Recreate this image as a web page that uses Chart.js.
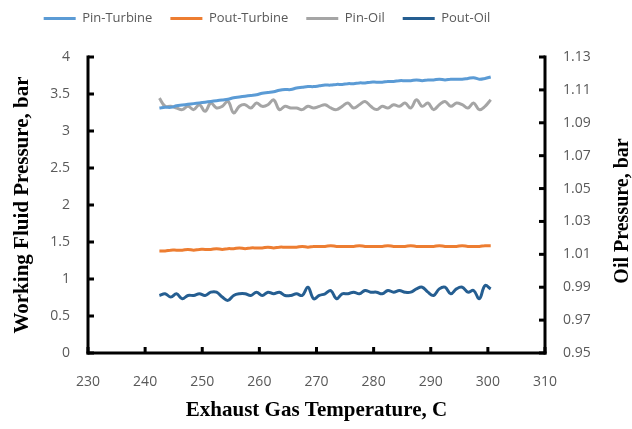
<!DOCTYPE html>
<html>
<head>
<meta charset="utf-8">
<script src="https://cdn.jsdelivr.net/npm/chart.js@4.4.1/dist/chart.umd.min.js"></script>
<style>
  html, body { margin: 0; padding: 0; background: #fff; }
  #chart { display: block; }
</style>
</head>
<body>
<canvas id="chart" width="632" height="429"></canvas>
<script>
// Exhaust gas temperature, C
const temperature = [
  242.5, 243.5, 244.5, 245.5, 246.5, 247.5, 248.5, 249.5, 250.5, 251.5,
  252.5, 253.5, 254.5, 255.5, 256.5, 257.5, 258.5, 259.5, 260.5, 261.5,
  262.5, 263.5, 264.5, 265.5, 266.5, 267.5, 268.5, 269.5, 270.5, 271.5,
  272.5, 273.5, 274.5, 275.5, 276.5, 277.5, 278.5, 279.5, 280.5, 281.5,
  282.5, 283.5, 284.5, 285.5, 286.5, 287.5, 288.5, 289.5, 290.5, 291.5,
  292.5, 293.5, 294.5, 295.5, 296.5, 297.5, 298.5, 299.5, 300.5
];

// working fluid pressures, bar (left axis)
const pinTurbine = [
  3.31, 3.32, 3.32, 3.34, 3.35, 3.36, 3.37, 3.38, 3.39, 3.40,
  3.41, 3.42, 3.43, 3.45, 3.46, 3.47, 3.48, 3.49, 3.51, 3.52,
  3.53, 3.55, 3.56, 3.56, 3.58, 3.59, 3.60, 3.60, 3.61, 3.62,
  3.62, 3.63, 3.63, 3.64, 3.64, 3.65, 3.65, 3.66, 3.66, 3.66,
  3.67, 3.67, 3.68, 3.68, 3.68, 3.69, 3.68, 3.69, 3.69, 3.70,
  3.69, 3.70, 3.70, 3.70, 3.71, 3.72, 3.70, 3.71, 3.73
];
const poutTurbine = [
  1.38, 1.38, 1.39, 1.39, 1.39, 1.40, 1.39, 1.40, 1.40, 1.40,
  1.41, 1.40, 1.41, 1.41, 1.42, 1.41, 1.42, 1.42, 1.42, 1.43,
  1.42, 1.43, 1.43, 1.43, 1.43, 1.44, 1.43, 1.44, 1.44, 1.44,
  1.45, 1.44, 1.44, 1.44, 1.44, 1.45, 1.44, 1.44, 1.44, 1.44,
  1.45, 1.44, 1.44, 1.44, 1.45, 1.44, 1.44, 1.44, 1.44, 1.45,
  1.44, 1.44, 1.44, 1.45, 1.44, 1.44, 1.44, 1.45, 1.45
];

// oil pressures, bar (right axis)
const pinOil = [
  1.105, 1.100, 1.100, 1.099, 1.098, 1.100, 1.098, 1.101, 1.097, 1.102,
  1.099, 1.100, 1.103, 1.096, 1.100, 1.101, 1.099, 1.102, 1.100, 1.101,
  1.104, 1.098, 1.100, 1.099, 1.099, 1.098, 1.100, 1.099, 1.100, 1.101,
  1.099, 1.098, 1.100, 1.102, 1.099, 1.101, 1.103, 1.100, 1.098, 1.100,
  1.099, 1.101, 1.100, 1.102, 1.099, 1.104, 1.100, 1.102, 1.098, 1.101,
  1.103, 1.100, 1.102, 1.101, 1.099, 1.102, 1.098, 1.100, 1.104
];
const poutOil = [
  0.985, 0.986, 0.984, 0.986, 0.983, 0.985, 0.985, 0.986, 0.985, 0.987,
  0.987, 0.984, 0.982, 0.985, 0.986, 0.986, 0.985, 0.987, 0.985, 0.987,
  0.986, 0.987, 0.985, 0.985, 0.986, 0.985, 0.990, 0.983, 0.985, 0.986,
  0.988, 0.983, 0.986, 0.986, 0.987, 0.986, 0.988, 0.987, 0.987, 0.986,
  0.988, 0.987, 0.988, 0.987, 0.987, 0.989, 0.990, 0.987, 0.985, 0.989,
  0.990, 0.986, 0.989, 0.990, 0.987, 0.988, 0.983, 0.991, 0.989
];

const xTicks = [230, 240, 250, 260, 270, 280, 290, 300, 310];
const leftTicks = [0, 0.5, 1, 1.5, 2, 2.5, 3, 3.5, 4];
const rightTicks = [0.95, 0.97, 0.99, 1.01, 1.03, 1.05, 1.07, 1.09, 1.11, 1.13];

const tickFont = { family: "'Open Sans', sans-serif", size: 14 };
const titleFont = { family: "'Liberation Serif', serif", size: 21, weight: 'bold' };

function points(values) {
  return values.map((v, i) => ({ x: temperature[i], y: v }));
}

function series(label, values, color, axis) {
  return {
    label: label,
    data: points(values),
    yAxisID: axis,
    borderColor: color,
    backgroundColor: color,
    borderWidth: 3,
    pointRadius: 0,
    tension: 0.4,
    fill: false
  };
}

// black axis bars round three sides, short ticks pointing into the plot
const axisLines = {
  id: 'axisLines',
  afterDraw(chart) {
    const ctx = chart.ctx;
    const a = chart.chartArea;
    const s = chart.scales;
    const w = 3;
    const len = 6;
    ctx.save();
    ctx.fillStyle = '#000000';
    ctx.fillRect(a.left - w / 2, a.top - w / 2, w, a.bottom - a.top + w);
    ctx.fillRect(a.right - w / 2, a.top - w / 2, w, a.bottom - a.top + w);
    ctx.fillRect(a.left - w / 2, a.bottom - w / 2, a.right - a.left + w, w);
    s.x.ticks.forEach(t => {
      const px = s.x.getPixelForValue(t.value);
      ctx.fillRect(px - w / 2, a.bottom - len, w, len);
    });
    s.y.ticks.forEach(t => {
      const py = s.y.getPixelForValue(t.value);
      ctx.fillRect(a.left, py - w / 2, len, w);
    });
    s.y1.ticks.forEach(t => {
      const py = s.y1.getPixelForValue(t.value);
      ctx.fillRect(a.right - len, py - w / 2, len, w);
    });
    ctx.restore();
  }
};

// second y axis title, reads bottom to top like the left one
const rightTitle = {
  id: 'rightTitle',
  afterDraw(chart) {
    const ctx = chart.ctx;
    const area = chart.chartArea;
    ctx.save();
    ctx.translate(623, (area.top + area.bottom) / 2 + 6);
    ctx.rotate(-Math.PI / 2);
    ctx.font = 'bold 20px "Liberation Serif", serif';
    ctx.fillStyle = '#000';
    ctx.textAlign = 'center';
    ctx.textBaseline = 'middle';
    ctx.fillText('Oil Pressure, bar', 0, 0);
    ctx.restore();
  }
};

// legend sits left of centre and close to the top edge
const legendShift = {
  id: 'legendShift',
  afterLayout(chart) {
    const l = chart.legend;
    l.left -= 49;
    l.right -= 49;
    l.top -= 22;
    l.bottom -= 22;
  }
};

new Chart(document.getElementById('chart'), {
  type: 'line',
  data: {
    datasets: [
      series('Pin-Turbine', pinTurbine, '#5b9bd5', 'y'),
      series('Pout-Turbine', poutTurbine, '#ed7d31', 'y'),
      series('Pin-Oil', pinOil, '#a5a5a5', 'y1'),
      series('Pout-Oil', poutOil, '#255e91', 'y1')
    ]
  },
  options: {
    responsive: false,
    animation: false,
    layout: { padding: { top: 16, left: 0, right: 0, bottom: 0 } },
    plugins: {
      tooltip: { enabled: false },
      legend: {
        position: 'top',
        labels: {
          usePointStyle: true,
          pointStyle: 'line',
          pointStyleWidth: 32,
          padding: 18,
          color: '#595959',
          font: { family: "'Open Sans', sans-serif", size: 13 }
        }
      }
    },
    scales: {
      x: {
        type: 'linear',
        min: 230,
        max: 310,
        afterBuildTicks: s => { s.ticks = xTicks.map(v => ({ value: v })); },
        afterFit: s => { s.height = 76; },
        border: { display: false },
        grid: { display: false, drawTicks: false },
        ticks: { padding: 21, color: '#595959', font: tickFont, maxRotation: 0 },
        title: {
          display: true,
          text: 'Exhaust Gas Temperature, C',
          color: '#000',
          font: titleFont,
          padding: { top: 0, bottom: 6 }
        }
      },
      y: {
        position: 'left',
        min: 0,
        max: 4,
        afterBuildTicks: s => { s.ticks = leftTicks.map(v => ({ value: v })); },
        afterFit: s => { s.width = 88; },
        border: { display: false },
        grid: { display: false, drawTicks: false },
        ticks: { padding: 18, color: '#595959', font: tickFont, callback: v => String(v) },
        title: {
          display: true,
          text: 'Working Fluid Pressure, bar',
          color: '#000',
          font: titleFont,
          padding: { top: 10, bottom: 0 }
        }
      },
      y1: {
        position: 'right',
        min: 0.95,
        max: 1.13,
        afterBuildTicks: s => { s.ticks = rightTicks.map(v => ({ value: v })); },
        afterFit: s => { s.width = 87; },
        border: { display: false },
        grid: { display: false, drawTicks: false },
        ticks: {
          padding: 18,
          color: '#595959',
          font: tickFont,
          callback: v => v.toFixed(2)
        }
      }
    }
  },
  plugins: [axisLines, rightTitle, legendShift]
});
</script>
</body>
</html>
